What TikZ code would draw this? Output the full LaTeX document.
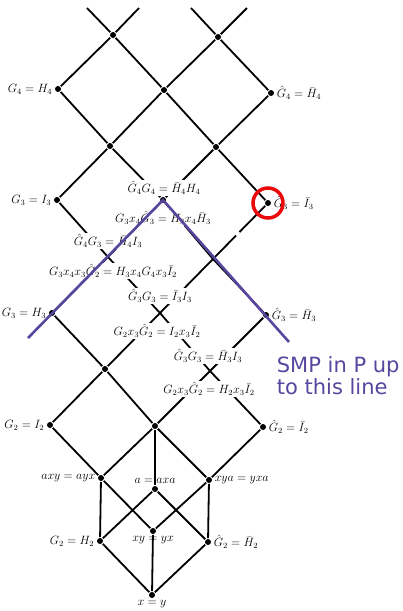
\documentclass[tikz,border=0pt]{standalone}
\usepackage{fontspec}
\newfontfamily\smpfont{DejaVu Sans}
\usetikzlibrary{positioning,calc}
\definecolor{smpblue}{RGB}{88,70,158}
\definecolor{ringred}{RGB}{235,10,10}
\begin{document}
\begin{tikzpicture}[x=1pt,y=-1pt,line width=1.8pt,font=\fontsize{12}{14}\selectfont,
		vtx/.style={circle,fill,inner sep=0pt,minimum size=6pt},
		lbl/.style={inner sep=1pt},
		mid/.style={fill=white,inner sep=1pt}]
				\useasboundingbox (0,0) rectangle (402,611);
				\coordinate (e1) at (87,8); \coordinate (e2) at (139,8);
				\coordinate (e3) at (191,8); \coordinate (e4) at (247,8);
				\node[vtx] (t1) at (113,35) {};
				\node[vtx] (t2) at (218,37) {};
				\node[vtx] (g4) at (58,89) {};
				\node[vtx] (m2) at (164,90) {};
				\node[vtx] (hg4) at (271,93) {};
				\node[vtx] (l3) at (110,146) {};
				\node[vtx] (r3) at (216,147) {};
				\node[vtx] (g3i) at (57,200) {};
				\node[vtx] (apex) at (163,200) {};
				\node[vtx] (hg3i) at (268,203) {};
				\coordinate (c5l) at (108,257);
				\coordinate (c5r) at (213,259);
				\node[vtx] (g3h) at (52,313) {};
				\coordinate (c6) at (160,313);
				\node[vtx] (hg3h) at (266,315) {};
				\node[vtx] (l7) at (105,369) {};
				\coordinate (c7) at (210,371);
				\node[vtx] (g2i) at (50,425) {};
				\node[vtx] (m8) at (155,426) {};
				\node[vtx] (hg2i) at (263,427) {};
				\node[vtx] (axy) at (101,478) {};
				\node[vtx] (aa) at (155,489) {};
				\node[vtx] (xya) at (209,480) {};
				\node[vtx] (xy) at (153,531) {};
				\node[vtx] (g2h) at (100,541) {};
				\node[vtx] (hg2h) at (208,542) {};
				\node[vtx] (xeqy) at (152,595) {};
				\draw (e1) -- (t1) -- (e2) (e3) -- (t2) -- (e4);
				\draw (t1) -- (g4) -- (l3) -- (g3i) -- (c5l) -- (g3h) -- (l7) -- (g2i) -- (axy);
				\draw (t1) -- (m2) -- (r3) -- (apex) -- (c5r) -- (hg3h) -- (c7) -- (hg2i) -- (xya);
				\draw (t2) -- (m2) -- (l3) -- (apex) -- (c5l) -- (c6) -- (c7) -- (m8) -- (axy);
				\draw (t2) -- (hg4) -- (r3) -- (hg3i) -- ($(hg3i)!.52!(c5r)$) ($(hg3i)!.58!(c5r)$) -- (c5r) -- (c6) -- (l7) -- (m8) -- (xya);
				\draw (m8) -- (aa);
				\draw (axy) -- (g2h) (axy) -- (xy) (aa) -- (g2h) (aa) -- (hg2h);
				\draw (xya) -- (xy) (xya) -- (hg2h);
				\draw (g2h) -- (xeqy) (xy) -- (xeqy) (hg2h) -- (xeqy);
				\node[lbl,left=0pt of g4] (g4l) {$G_4 = H_4$};
				\node[lbl,right=0pt of hg4] (hg4l) {$\hat{G}_4 = \bar{H}_4$};
				\node[lbl,left=0pt of g3i] (g3il) {$G_3 = I_3$};
				\node[lbl,right=0pt of hg3i] (hg3il) {$\hat{G}_3 = \bar{I}_3$};
				\node[lbl,left=0pt of g3h] (g3hl) {$G_3 = H_3$};
				\node[lbl,right=0pt of hg3h] (hg3hl) {$\hat{G}_3 = \bar{H}_3$};
				\node[lbl,left=0pt of g2i] (g2il) {$G_2 = I_2$};
				\node[lbl,right=0pt of hg2i] (hg2il) {$\hat{G}_2 = \bar{I}_2$};
				\node[mid] (m4l) at (164,188) {$\hat{G}_4G_4 = \bar{H}_4H_4$};
				\node[mid] (m45l) at (163,218) {$G_3x_4\hat{G}_3 = H_3x_4\bar{H}_3$};
				\node[mid] (c5ll) at (108,241) {$\hat{G}_4G_3 = \bar{H}_4I_3$};
				\node[mid] (c56l) at (113,271) {$G_3x_4x_3\hat{G}_2 = H_3x_4G_4x_3\bar{I}_2$};
				\node[mid] (c6l) at (160,296) {$\hat{G}_3G_3 = \bar{I}_3I_3$};
				\node[mid] (c67l) at (157,331) {$G_2x_3\hat{G}_2 = I_2x_3\bar{I}_2$};
				\node[mid] (c7l) at (208,356) {$\hat{G}_3G_3 = \bar{H}_3I_3$};
				\node[mid] (c78l) at (209,389) {$G_2x_3\hat{G}_2 = H_2x_3\bar{I}_2$};
				\node[lbl,left=0pt of axy] (axyl) {$axy = ayx$};
				\node[lbl,above=0pt of aa] (aal) {$a = axa$};
				\node[lbl,right=0pt of xya] (xyal) {$xya = yxa$};
				\node[lbl,left=0pt of g2h] (g2hl) {$G_2 = H_2$};
				\node[lbl,below=0pt of xy] (xyl) {$xy = yx$};
				\node[lbl,right=0pt of hg2h] (hg2hl) {$\hat{G}_2 = \bar{H}_2$};
				\node[lbl,below=0pt of xeqy] (xeqyl) {$x = y$};
				\coordinate (pl) at (28,338);
				\coordinate (pr) at (289,342);
				\draw[smpblue,line width=2.6pt] (pl) -- (apex.center) -- (pr);
				\draw[ringred,line width=3.5pt] (hg3i) circle[radius=15pt];
				\node[smpblue,font=\smpfont\fontsize{21}{22}\selectfont,align=left,anchor=north west,inner sep=0pt] (smp) at (276,356) {SMP in P up\\to this line};
\end{tikzpicture}
\end{document}
